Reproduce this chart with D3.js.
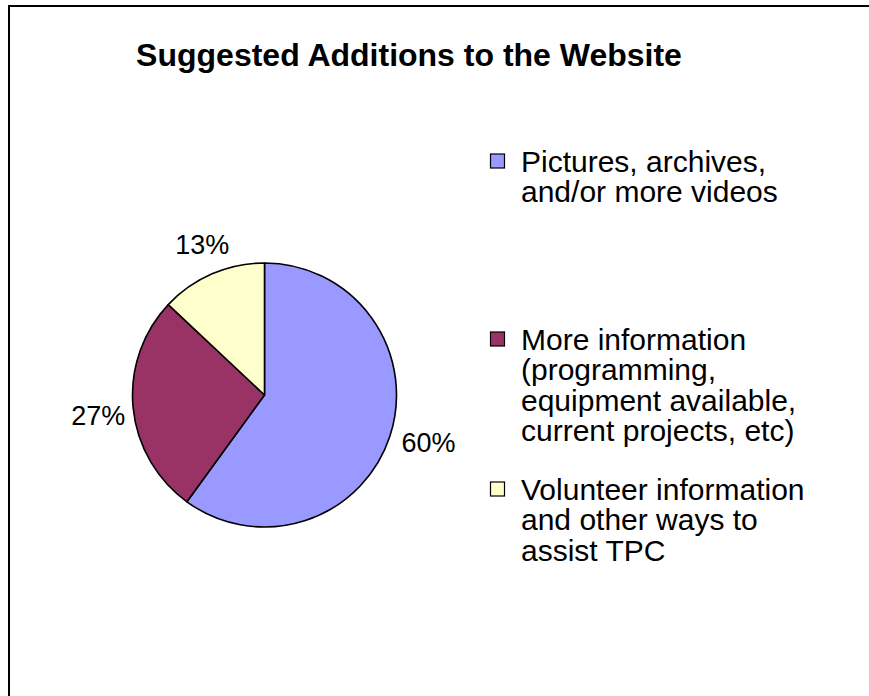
<!DOCTYPE html>
<html>
<head>
<meta charset="utf-8">
<script src="https://cdn.jsdelivr.net/npm/d3@7/dist/d3.min.js"></script>
<style>
  html, body { margin: 0; padding: 0; background: #fff; }
  svg { display: block; }
  text { font-family: "Liberation Sans", Arial, sans-serif; fill: #000; }
</style>
</head>
<body>
<svg id="chart" width="869" height="696"></svg>
<script>
// Survey answers: share of respondents per suggestion
const categories = [
  "Pictures, archives, and/or more videos",
  "More information (programming, equipment available, current projects, etc)",
  "Volunteer information and other ways to assist TPC"
];
const values = [60, 27, 13];
const percentLabels = ["60%", "27%", "13%"];
const legendLines = [
  ["Pictures, archives,", "and/or more videos"],
  ["More information", "(programming,", "equipment available,", "current projects, etc)"],
  ["Volunteer information", "and other ways to", "assist TPC"]
];
const colors = ["#9999FF", "#993366", "#FFFFCC"];
const title = "Suggested Additions to the Website";

const svg = d3.select("#chart");
const W = 869, H = 696;

// Chart frame (runs past the right and bottom edges)
svg.append("rect")
  .attr("x", 9).attr("y", 6)
  .attr("width", W + 20).attr("height", H + 20)
  .attr("fill", "#fff")
  .attr("stroke", "#000")
  .attr("stroke-width", 2);

// Title
svg.append("text")
  .attr("x", 409).attr("y", 66)
  .attr("text-anchor", "middle")
  .style("font-size", "32px")
  .style("font-weight", "bold")
  .text(title);

// Pie
const cx = 264.5, cy = 395, r = 132;
const color = d3.scaleOrdinal().domain(categories).range(colors);
const pie = d3.pie().sort(null).value(d => d.value);
const data = categories.map((c, i) => ({ name: c, value: values[i], label: percentLabels[i] }));
const arcs = pie(data);
const arc = d3.arc().innerRadius(0).outerRadius(r);

const g = svg.append("g").attr("transform", `translate(${cx},${cy})`);
g.selectAll("path.slice")
  .data(arcs)
  .join("path")
  .attr("class", "slice")
  .attr("d", arc)
  .attr("fill", d => color(d.data.name))
  .attr("stroke", "#000")
  .attr("stroke-width", 1.6)
  .attr("stroke-linejoin", "round");

// Percentage labels placed outside the rim, along each slice's mid-angle
const labelArc = d3.arc().innerRadius(r + 30).outerRadius(r + 30);
const labelNudge = [[10, -2], [-5, 6], [2, -1]];
g.selectAll("text.pct")
  .data(arcs)
  .join("text")
  .attr("class", "pct")
  .attr("x", (d, i) => labelArc.centroid(d)[0] + labelNudge[i][0])
  .attr("y", (d, i) => labelArc.centroid(d)[1] + labelNudge[i][1])
  .attr("text-anchor", "middle")
  .attr("dominant-baseline", "central")
  .style("font-size", "27px")
  .text(d => d.data.label);

// Legend
const legendTop = [161, 339, 489];
const lineH = 30.3;
const legend = svg.append("g");
legendLines.forEach((lines, i) => {
  legend.append("rect")
    .attr("x", 490.5).attr("y", legendTop[i] - 7)
    .attr("width", 14).attr("height", 14)
    .attr("fill", colors[i])
    .attr("stroke", "#000")
    .attr("stroke-width", 1.2);
  const t = legend.append("text")
    .attr("x", 521)
    .attr("y", legendTop[i])
    .attr("dominant-baseline", "central")
    .style("font-size", "30px");
  lines.forEach((ln, j) => {
    t.append("tspan")
      .attr("x", 521)
      .attr("y", legendTop[i] + j * lineH)
      .text(ln);
  });
});
</script>
</body>
</html>
